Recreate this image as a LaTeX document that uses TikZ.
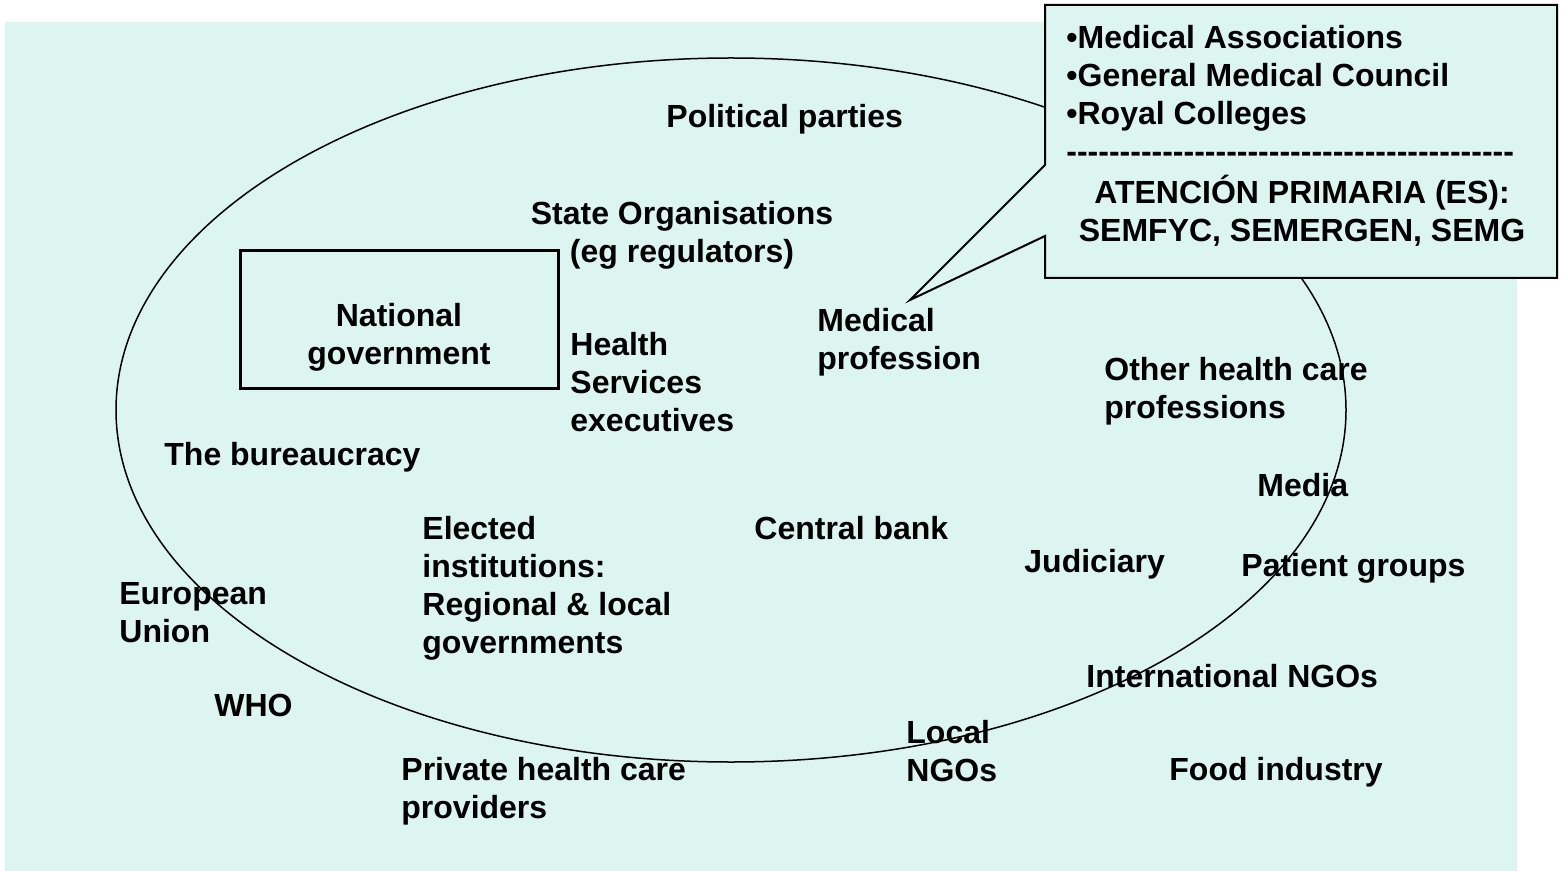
\documentclass[tikz,border=0pt]{standalone}
\usepackage{fontspec}
\setmainfont{Liberation Sans}
\definecolor{bg}{RGB}{220,245,241}
\begin{document}
\begin{tikzpicture}[x=0.5pt,y=-0.5pt,
  lbl/.style={anchor=north west,inner sep=0pt,align=left,font=\fontsize{16}{19}\selectfont\bfseries},
  clbl/.style={lbl,anchor=north,align=center}]
\useasboundingbox (0,0) rectangle (1562,871);
\fill[bg] (5,22) rectangle (1517,871);
\draw[line width=0.75pt] (731,410) ellipse [x radius=307.5pt, y radius=176pt];
\node[draw,line width=1.5pt,minimum width=159pt,minimum height=69pt,inner sep=0pt] (natgovbox) at (399,319.5) {};
\node[clbl] (natgov) at (399,300) {\strut National\\government};
\node[lbl] (parties) at (666,101) {\strut Political parties};
\node[clbl] (stateorg) at (682,198) {\strut State Organisations\\(eg regulators)};
\node[lbl] (hse) at (570,328) {\strut Health\\Services\\executives};
\node[lbl] (medprof) at (817,305) {\strut Medical\\profession};
\node[lbl] (otherhc) at (1104,353) {\strut Other health care\\professions};
\node[lbl] (bureau) at (164,438) {\strut The bureaucracy};
\node[lbl] (media) at (1257,469) {\strut Media};
\node[lbl] (elected) at (422,512) {\strut Elected\\institutions:\\Regional \& local\\governments};
\node[lbl] (cbank) at (754,512) {\strut Central bank};
\node[lbl] (judic) at (1024,545) {\strut Judiciary};
\node[lbl] (patient) at (1241,549) {\strut Patient groups};
\node[lbl] (eu) at (119,577) {\strut European\\Union};
\node[lbl] (intngo) at (1086,660) {\strut International NGOs};
\node[lbl] (who) at (214,689) {\strut WHO};
\node[lbl] (localngo) at (906,716) {\strut Local\\NGOs};
\node[lbl] (private) at (401,753) {\strut Private health care\\providers};
\node[lbl] (food) at (1169,753) {\strut Food industry};
% callout
\draw[line width=1pt,fill=bg] (1045,5) -- (1557,5) -- (1557,278) -- (1045,278) -- (1045,236) -- (910,300) -- (1045,165) -- cycle;
\node[lbl] (assoc) at (1066,22) {\strut •Medical Associations\\•General Medical Council\\•Royal Colleges\\-{}-{}-{}-{}-{}-{}-{}-{}-{}-{}-{}-{}-{}-{}-{}-{}-{}-{}-{}-{}-{}-{}-{}-{}-{}-{}-{}-{}-{}-{}-{}-{}-{}-{}-{}-{}-{}-{}-{}-{}-{}-{}};
\node[clbl] (atencion) at (1302,175) {\strut ATENCIÓN PRIMARIA (ES):\\SEMFYC, SEMERGEN, SEMG};
\end{tikzpicture}
\end{document}
